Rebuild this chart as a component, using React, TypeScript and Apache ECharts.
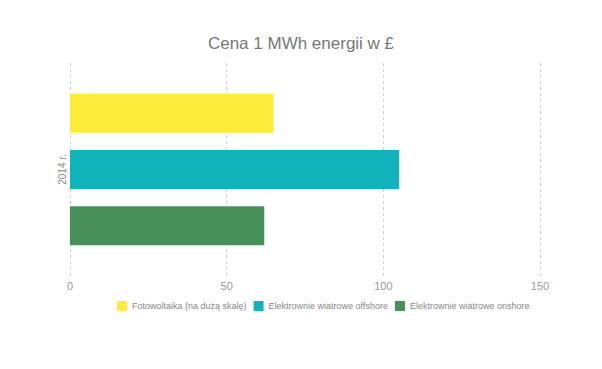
import React, { useEffect, useRef } from "react";
import * as echarts from "echarts";

const categories = ["2014 r."];
const seriesNames = [
  "Fotowoltaika (na dużą skalę)",
  "Elektrownie wiatrowe offshore",
  "Elektrownie wiatrowe onshore",
];
const seriesValues = [[65], [105], [62]];
const seriesColors = ["#FDEB3B", "#10B3BA", "#48905A"];
const xTicks = [0, 50, 100, 150];

export default function App() {
  const ref = useRef<HTMLDivElement>(null);
  useEffect(() => {
    if (!ref.current) return;
    const chart = echarts.init(ref.current, null, { renderer: "svg" });
    chart.setOption({
      animation: false,
      title: {
        text: "Cena 1 MWh energii w £",
        left: "center",
        top: 22,
        textStyle: {
          fontFamily: "Liberation Sans",
          fontSize: 17,
          fontWeight: "normal",
          color: "#777777",
        },
      },
      legend: {
        top: 288,
        left: 104,
        itemWidth: 10,
        itemHeight: 10,
        itemGap: 7,
        icon: "rect",
        textStyle: {
          fontFamily: "Liberation Sans",
          fontSize: 9,
          color: "#888888",
        },
        data: seriesNames,
      },
      grid: { left: 62, right: 54, top: 55, height: 213 },
      xAxis: {
        type: "value",
        min: 0,
        max: xTicks[xTicks.length - 1],
        interval: 50,
        axisLine: { show: false },
        axisTick: { show: false },
        axisLabel: {
          fontFamily: "Liberation Sans",
          fontSize: 11,
          color: "#999999",
          margin: 4,
        },
        splitLine: {
          show: true,
          lineStyle: { type: [3, 3], color: "#d0d0d0", width: 1 },
        },
      },
      yAxis: {
        type: "category",
        data: categories,
        inverse: true,
        axisLine: { show: false },
        axisTick: { show: false },
        axisLabel: {
          rotate: 90,
          fontFamily: "Liberation Sans",
          fontSize: 10,
          color: "#888888",
          margin: 3,
        },
      },
      series: seriesNames.map((name, i) => ({
        name,
        type: "bar",
        data: seriesValues[i],
        barWidth: 39,
        barGap: "44%",
        itemStyle: { color: seriesColors[i] },
      })),
    });
    return () => chart.dispose();
  }, []);
  return <div ref={ref} style={{ width: 586, height: 353 }} />;
}
